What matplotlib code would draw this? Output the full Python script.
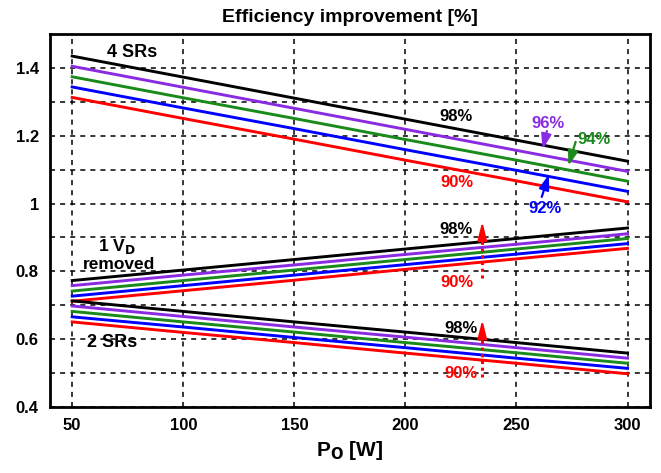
import numpy as np
import matplotlib
matplotlib.use('Agg')
import matplotlib.pyplot as plt

plt.rcParams['font.family'] = ['Liberation Sans', 'DejaVu Sans']
plt.rcParams['font.weight'] = 'bold'

# output power [W]
po = [50, 100, 150, 200, 250, 300]

# 4 SRs
sr4_98 = [1.435, 1.373, 1.311, 1.249, 1.187, 1.125]
sr4_96 = [1.405, 1.343, 1.281, 1.219, 1.157, 1.095]
sr4_94 = [1.374, 1.312, 1.251, 1.189, 1.128, 1.066]
sr4_92 = [1.344, 1.282, 1.221, 1.159, 1.098, 1.036]
sr4_90 = [1.313, 1.251, 1.190, 1.128, 1.067, 1.005]

# 1 VD removed
vd_98 = [0.773, 0.804, 0.835, 0.866, 0.897, 0.928]
vd_96 = [0.758, 0.789, 0.819, 0.850, 0.880, 0.911]
vd_94 = [0.742, 0.773, 0.804, 0.835, 0.866, 0.897]
vd_92 = [0.727, 0.758, 0.789, 0.820, 0.851, 0.882]
vd_90 = [0.712, 0.743, 0.774, 0.806, 0.837, 0.868]

# 2 SRs
sr2_98 = [0.713, 0.682, 0.651, 0.621, 0.590, 0.559]
sr2_96 = [0.698, 0.667, 0.636, 0.606, 0.575, 0.544]
sr2_94 = [0.682, 0.651, 0.621, 0.590, 0.560, 0.529]
sr2_92 = [0.666, 0.636, 0.605, 0.575, 0.544, 0.514]
sr2_90 = [0.651, 0.620, 0.590, 0.559, 0.529, 0.498]

colors = ['black', '#8a2be2', '#1a8a1a', '#0000ff', '#ff0000']

fig = plt.figure(figsize=(6.61, 4.73), dpi=100)
ax = fig.add_axes([0.0756, 0.1395, 0.9074, 0.7885])

groups = [[sr4_98, sr4_96, sr4_94, sr4_92, sr4_90],
          [vd_98, vd_96, vd_94, vd_92, vd_90],
          [sr2_98, sr2_96, sr2_94, sr2_92, sr2_90]]
for g in groups:
    for vals, c in zip(g, colors):
        ax.plot(po, vals, color=c, lw=2.1, zorder=3)

ax.set_xlim(40, 310)
ax.set_ylim(0.4, 1.5)
ax.set_xticks(po)
ax.set_yticks(np.arange(0.5, 1.45, 0.1), minor=True)
ax.set_yticks([0.4, 0.6, 0.8, 1.0, 1.2, 1.4])
ax.set_yticklabels(['0.4', '0.6', '0.8', '1', '1.2', '1.4'])
ax.grid(True, which='both', color='black', ls=(0, (3.3, 3.3)), lw=1.1)
ax.tick_params(which='both', length=0, labelsize=12, pad=8)
for s in ax.spines.values():
    s.set_linewidth(2)

ax.set_title('Efficiency improvement [%]', fontsize=14, fontweight='bold', pad=9)
ax.set_xlabel(r'P$_\mathbf{O}$ [W]', fontsize=15, fontweight='bold', labelpad=4)

fs = 12
ax.text(77, 1.447, '4 SRs', fontsize=13, ha='center', va='center')
ax.text(223, 1.256, '98%', fontsize=fs, ha='center', va='center')
ax.text(223, 1.062, '90%', fontsize=fs, ha='center', va='center', color='#ff0000')
ax.text(264, 1.236, '96%', fontsize=fs, ha='center', va='center', color='#8a2be2')
ax.text(285, 1.190, '94%', fontsize=fs, ha='center', va='center', color='#1a8a1a')
ax.text(263, 0.985, '92%', fontsize=fs, ha='center', va='center', color='#0000ff')
head = '-|>,head_length=0.9,head_width=0.3'
ax.annotate('', xy=(261.5, 1.152), xytext=(264, 1.222),
            arrowprops=dict(arrowstyle=head, color='#8a2be2', lw=1.6, mutation_scale=10))
ax.annotate('', xy=(273, 1.104), xytext=(277, 1.190),
            arrowprops=dict(arrowstyle=head, color='#1a8a1a', lw=1.6, mutation_scale=10))
ax.annotate('', xy=(265, 1.094), xytext=(261, 1.012),
            arrowprops=dict(arrowstyle=head, color='#0000ff', lw=1.6, mutation_scale=10))

ax.text(70, 0.874, r'1 V$_\mathbf{D}$', fontsize=12.5, ha='center', va='center')
ax.text(71, 0.820, 'removed', fontsize=12.5, ha='center', va='center')
ax.text(223, 0.923, '98%', fontsize=fs, ha='center', va='center')
ax.text(223, 0.767, '90%', fontsize=fs, ha='center', va='center', color='#ff0000')

ax.text(68, 0.589, '2 SRs', fontsize=13, ha='center', va='center')
ax.text(225, 0.633, '98%', fontsize=fs, ha='center', va='center')
ax.text(225, 0.500, '90%', fontsize=fs, ha='center', va='center', color='#ff0000')

# red dotted arrows: 90% -> 98%
for y0, y1 in [(0.78, 0.955), (0.49, 0.665)]:
    ax.plot([234.6, 234.6], [y0, y1 - 0.04], color='#ff0000', lw=2.2,
            ls=(0, (1, 1.2)), zorder=4)
    ax.annotate('', xy=(234.6, y1), xytext=(234.6, y1 - 0.05),
                arrowprops=dict(arrowstyle='-|>,head_length=1.1,head_width=0.28',
                                color='#ff0000', lw=1.5, mutation_scale=10), zorder=4)

fig.savefig('out.png', dpi=100)
